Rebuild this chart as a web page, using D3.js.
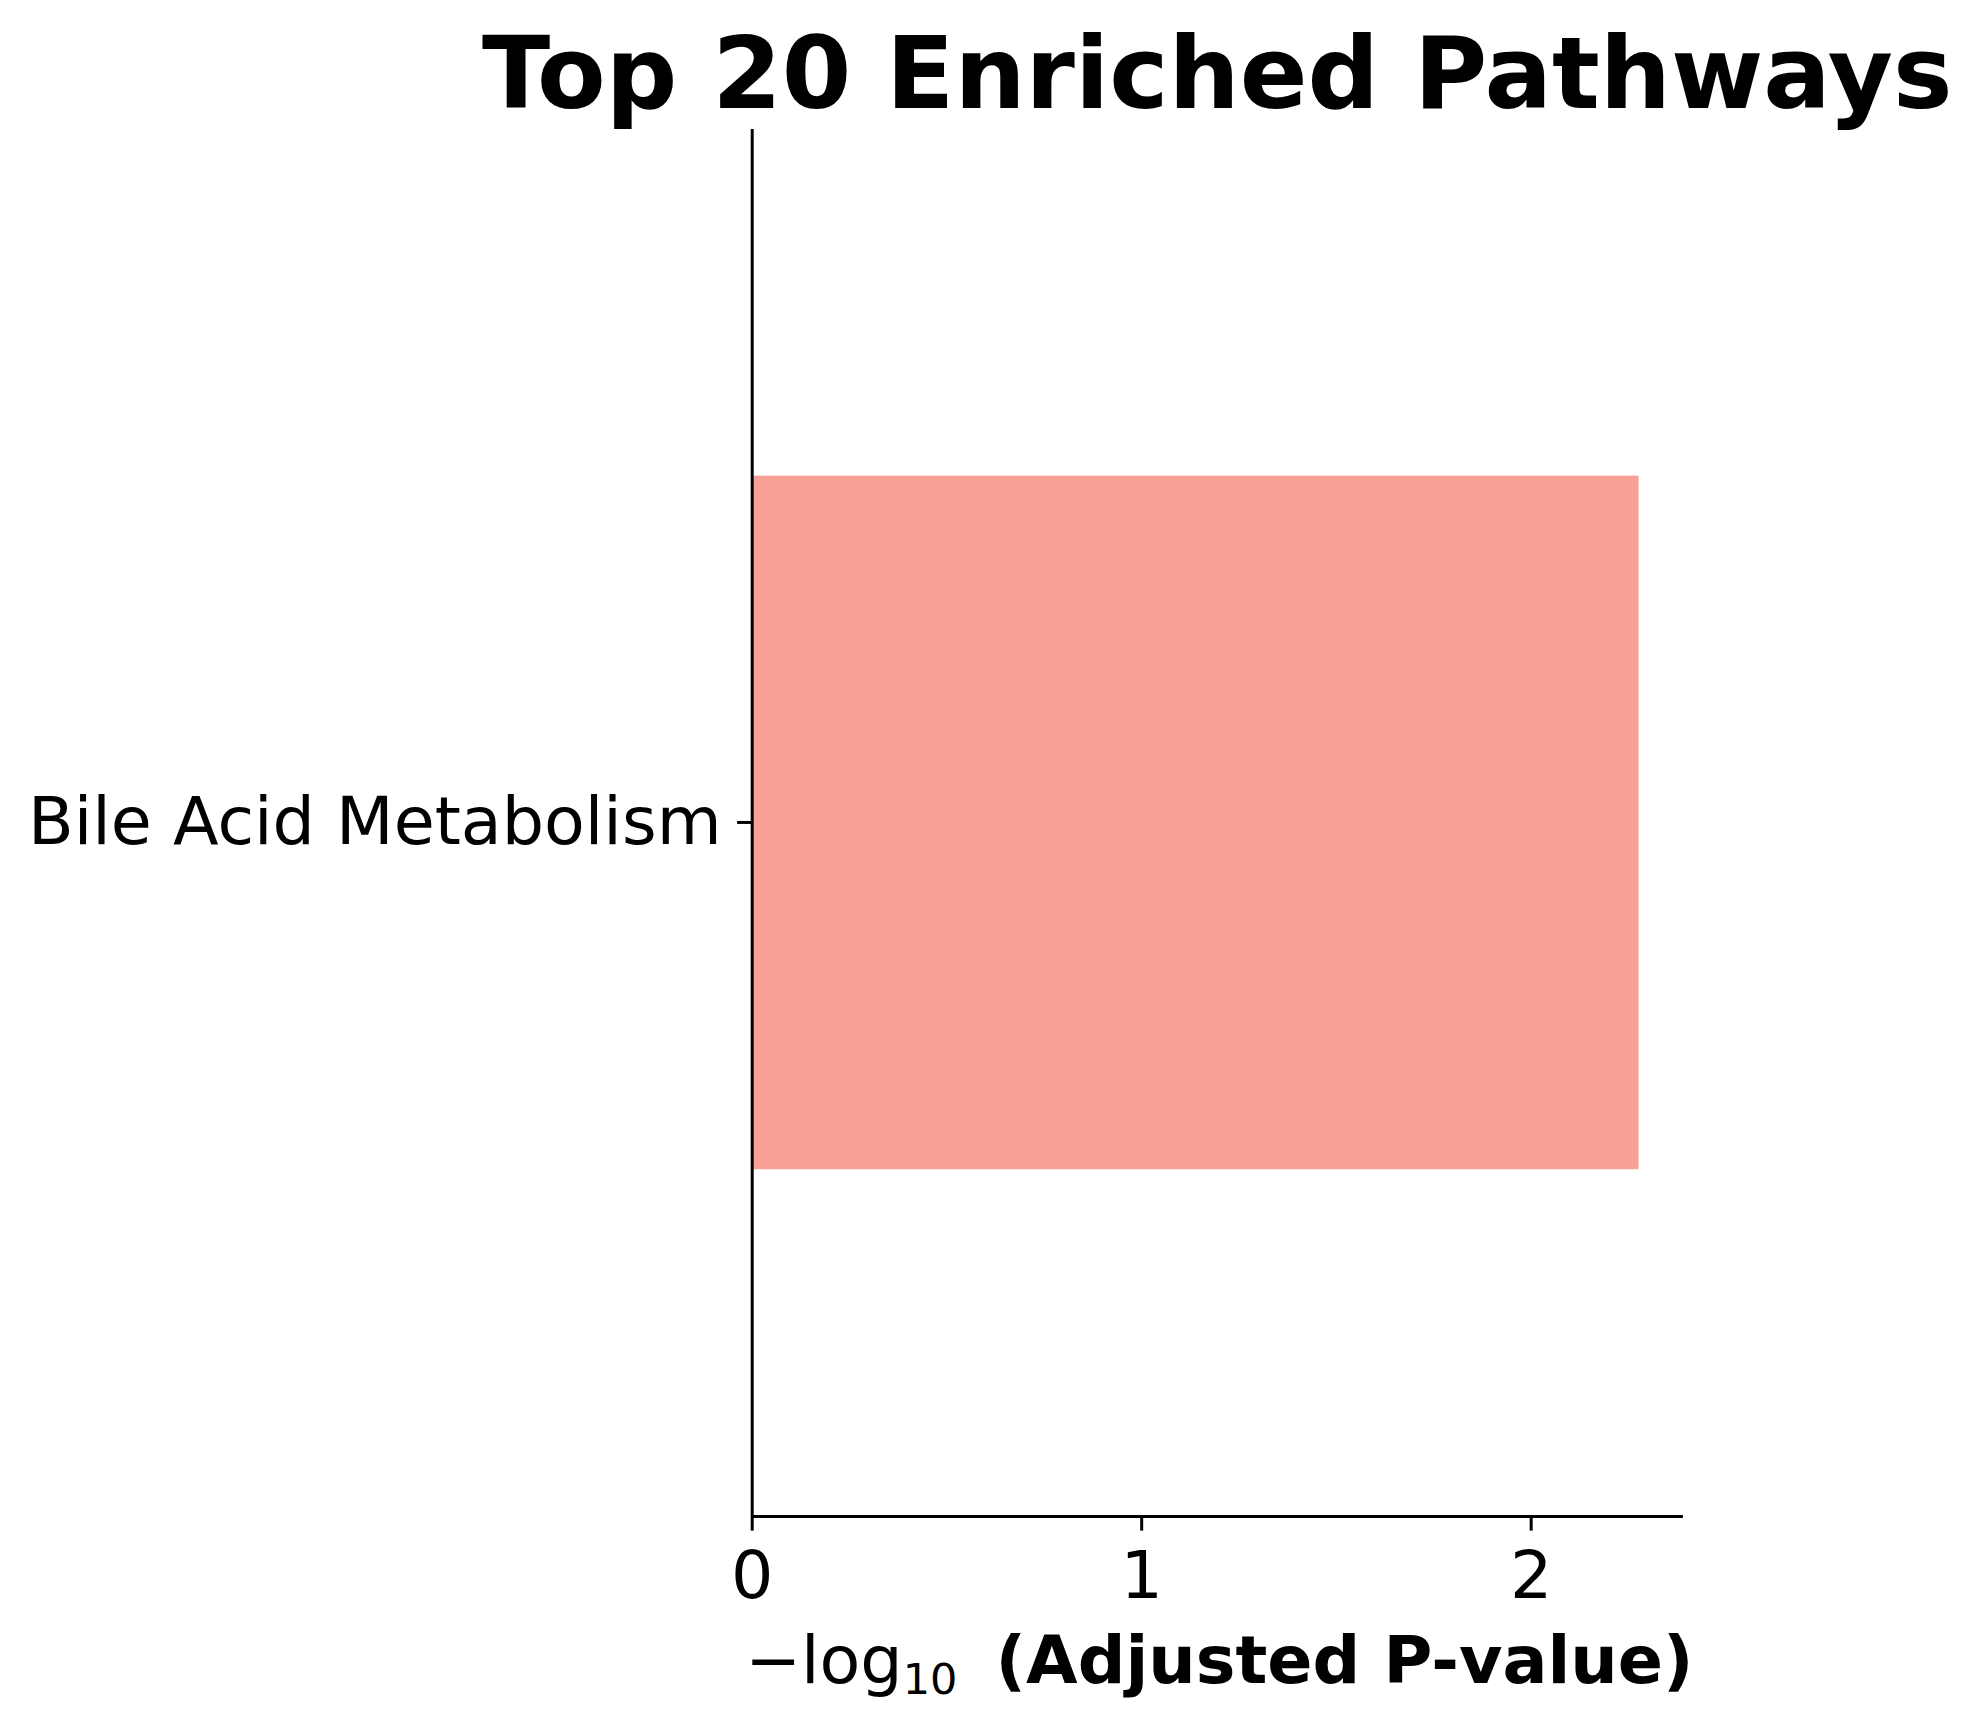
<!DOCTYPE html>
<html>
<head>
<meta charset="utf-8">
<script src="https://cdn.jsdelivr.net/npm/d3@7"></script>
<style>
  html, body { margin: 0; padding: 0; background: #fff; }
  svg { display: block; font-family: "DejaVu Sans", sans-serif; }
</style>
</head>
<body>
<svg id="chart" width="1981" height="1729"></svg>
<script>
// ---- data ----
const pathways = ["Bile Acid Metabolism"];
const negLog10P = [2.277];
const xTicks = [0, 1, 2];
const titleText = "Top 20 Enriched Pathways";

(function () {
  // ---- layout ----
  const plotLeft = 751.7, plotRight = 1682.9, plotTop = 128.9, plotBottom = 1516;
  const svg = d3.select("#chart");

  const x = d3.scaleLinear()
    .domain([0, d3.max(negLog10P) * 1.05])
    .range([plotLeft, plotRight]);

  const y = d3.scaleBand()
    .domain(pathways)
    .range([plotTop, plotBottom])
    .paddingInner(0.2)
    .paddingOuter(0.4);

  // bars
  svg.append("g").selectAll("rect")
    .data(pathways)
    .join("rect")
    .attr("x", x(0))
    .attr("y", d => y(d))
    .attr("width", (d, i) => x(negLog10P[i]) - x(0))
    .attr("height", y.bandwidth())
    .attr("fill", "#F9A196");

  const tickFont = 66.7;

  const xAxis = svg.append("g")
    .attr("transform", `translate(0,${plotBottom})`)
    .call(d3.axisBottom(x).tickValues(xTicks).tickFormat(d3.format("d"))
      .tickSize(14.6).tickSizeOuter(0).tickPadding(20));
  const yAxis = svg.append("g")
    .attr("transform", `translate(${plotLeft},0)`)
    .call(d3.axisLeft(y).tickSize(14.6).tickSizeOuter(0).tickPadding(15.5));

  [xAxis, yAxis].forEach(g => {
    g.selectAll("path.domain").attr("stroke", "#000").attr("stroke-width", 3);
    g.selectAll(".tick line").attr("stroke", "#000").attr("stroke-width", 3);
    g.selectAll(".tick text")
      .attr("fill", "#000")
      .style("font-family", "'DejaVu Sans', sans-serif")
      .style("font-size", tickFont + "px");
  });
  xAxis.select("path.domain").attr("d", `M${plotLeft},0.5H${plotRight}`);
  yAxis.select("path.domain").attr("d", `M0.5,${plotTop}V${plotBottom}`);

  // title
  svg.append("text")
    .attr("x", (plotLeft + plotRight) / 2)
    .attr("y", 108)
    .attr("text-anchor", "middle")
    .style("font-weight", "bold")
    .style("font-size", "100px")
    .attr("fill", "#000")
    .text(titleText);

  // x label
  const xl = svg.append("text")
    .attr("x", (plotLeft + plotRight) / 2 + 2)
    .attr("y", 1683)
    .attr("text-anchor", "middle")
    .attr("fill", "#000")
    .style("font-size", tickFont + "px");
  xl.append("tspan").text("\u2212log");
  xl.append("tspan").attr("dy", 11).style("font-size", "43px").text("10");
  xl.append("tspan").attr("dy", -11).attr("dx", 15).style("font-weight", "bold").text("\u00a0(Adjusted P-value)");
})();
</script>
</body>
</html>
